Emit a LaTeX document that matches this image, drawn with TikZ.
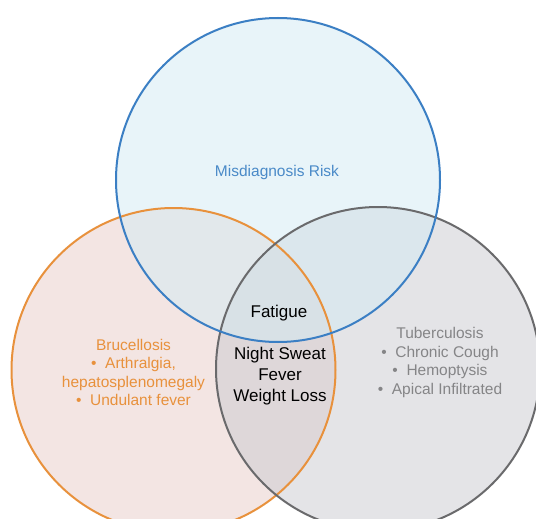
\documentclass[tikz,border=0pt]{standalone}
\usepackage{fontspec}
\setmainfont{Liberation Sans}
\definecolor{bluestroke}{HTML}{3B7FC4}
\definecolor{bluefill}{HTML}{D3EBF4}
\definecolor{orangestroke}{HTML}{E8913C}
\definecolor{orangefill}{HTML}{E8CCC8}
\definecolor{greystroke}{HTML}{6A6A6C}
\definecolor{greyfill}{HTML}{CBCBD0}
\definecolor{bluetext}{HTML}{4A8AC8}
\definecolor{orangetext}{HTML}{E8913C}
\definecolor{greytext}{HTML}{858587}
\begin{document}
\begin{tikzpicture}[x=1pt,y=-1pt,
  vcircle/.style={circle, fill opacity=0.5, minimum size=324pt, inner sep=0pt},
  ring/.style={line width=2pt},
  lbl/.style={align=center, font=\fontsize{15.5}{18.5}\selectfont},
  midlbl/.style={align=center, font=\fontsize{17}{21}\selectfont, text=black}]
\useasboundingbox (0,0) rectangle (536,519);
\fill[white] (0,0) rectangle (536,519);
\begin{scope}
\clip (0,0) rectangle (536,519);
\node[vcircle, fill=orangefill] (bru) at (173.5,370) {};
\node[vcircle, fill=greyfill] (tb) at (378,369) {};
\node[vcircle, fill=bluefill] (mis) at (278,180) {};
\draw[ring, orangestroke] (bru.center) circle[radius=162];
\draw[ring, greystroke] (tb.center) circle[radius=162];
\draw[ring, bluestroke] (mis.center) circle[radius=162];
\end{scope}
\node[lbl, text=bluetext] (mistext) at (277,172) {Misdiagnosis Risk};
\node[midlbl] (fat) at (279,313) {Fatigue};
\node[midlbl] (common) at (280,376) {Night Sweat\\Fever\\Weight Loss};
\node[lbl, text=orangetext] (brutext) at (133.5,372.5) {Brucellosis\\\textbullet\ \ Arthralgia,\\hepatosplenomegaly\\\textbullet\ \ Undulant fever};
\node[lbl, text=greytext] (tbtext) at (440,362.5) {Tuberculosis\\\textbullet\ \ Chronic Cough\\\textbullet\ \ Hemoptysis\\\textbullet\ \ Apical Infiltrated};
\end{tikzpicture}
\end{document}
